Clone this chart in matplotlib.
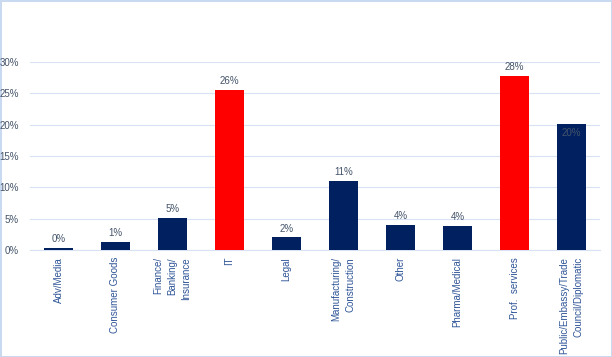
import matplotlib
matplotlib.use('Agg')
import matplotlib.pyplot as plt
import numpy as np

# 数据
categories = ['Adv/Media', 'Consumer Goods', 'Finance/\nBanking/\nInsurance', 'IT', 'Legal',
              'Manufacturing/\nConstruction', 'Other', 'Pharma/Medical', 'Prof.  services',
              'Public/Embassy/Trade\nCouncil/Diplomatic']
values = [0.003, 0.013, 0.051, 0.256, 0.020, 0.110, 0.040, 0.038, 0.278, 0.201]
labels = ['0%', '1%', '5%', '26%', '2%', '11%', '4%', '4%', '28%', '20%']
highlight = ['IT', 'Prof.  services']

plt.rcParams['font.family'] = ['Liberation Sans', 'DejaVu Sans']

navy = '#002060'
red = '#FF0000'
grid_c = '#D9E2F3'
txt_c = '#44546A'
tick_c = '#2F5597'

fig = plt.figure(figsize=(6.12, 3.57), dpi=100)
fig.patch.set_edgecolor('#C9DAF0')
fig.patch.set_linewidth(2)
ax = fig.add_axes([30 / 612, 107 / 357, 570 / 612, 188 / 357])

x = np.arange(len(categories))
colors = [red if c in highlight else navy for c in categories]
ax.bar(x, values, width=0.5, color=colors, zorder=3)

# 数值标签
for xi, v, lab in zip(x, values, labels):
    if lab == '20%':
        # 原图中此标签落在柱内
        ax.text(xi, v - 0.006, lab, ha='center', va='top', fontsize=7, color=txt_c, zorder=4)
    else:
        ax.text(xi, v + 0.006, lab, ha='center', va='bottom', fontsize=7, color=txt_c, zorder=4)

ax.set_xlim(-0.5, len(categories) - 0.5)
ax.set_ylim(0, 0.30)
ax.set_yticks(np.arange(0, 0.31, 0.05))
ax.set_yticklabels(['0%', '5%', '10%', '15%', '20%', '25%', '30%'], fontsize=7, color=txt_c)
ax.set_xticks(x)
ax.set_xticklabels(categories, rotation=90, fontsize=7, color=tick_c,
                   ha='center', va='top', multialignment='right', linespacing=1.5)
ax.tick_params(axis='x', length=0, pad=5)
ax.tick_params(axis='y', length=0, pad=8)
ax.grid(axis='y', color=grid_c, linewidth=0.8, zorder=0)
for s in ['top', 'right', 'left']:
    ax.spines[s].set_visible(False)
ax.spines['bottom'].set_color(grid_c)

plt.savefig('out.png', dpi=100)
